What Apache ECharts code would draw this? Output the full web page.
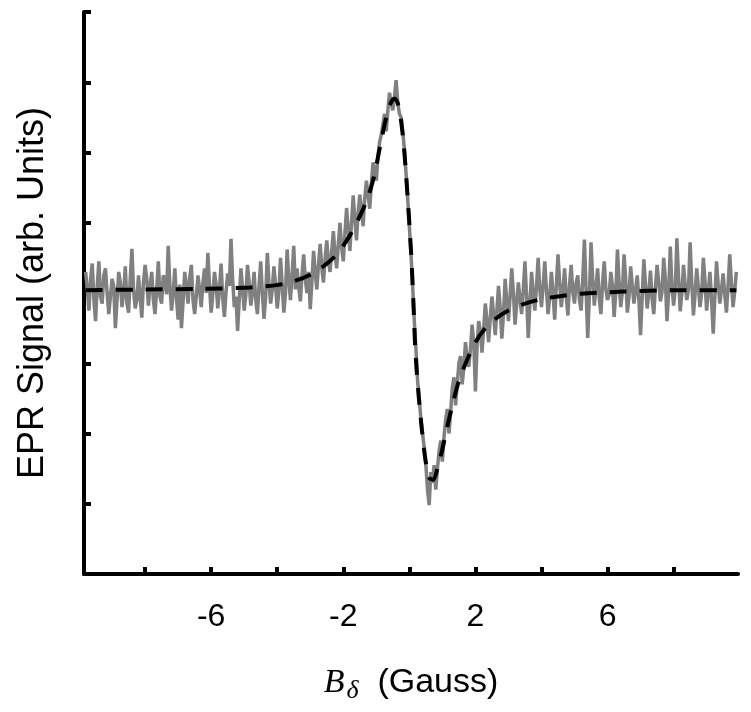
<!DOCTYPE html>
<html>
<head>
<meta charset="utf-8">
<script src="https://cdn.jsdelivr.net/npm/echarts@6/dist/echarts.min.js"></script>
<style>
  html, body { margin: 0; padding: 0; background: #fff; }
  #chart { width: 751px; height: 712px; }
</style>
</head>
<body>
<div id="chart"></div>
<script>
// field sweep of the measured trace (Gauss)
const signalStart = -9.8
const signalStep = 0.05

const signalLeft = [
    4.3, 4.05, 3.75, 4.2, 4.42, 3.9, 3.6, 4.1, 4.45, 3.95, 3.85, 4.25, 4.35, 4.0, 3.7, 3.95, 4.2, 4.1, 3.5, 3.9,
    4.3, 4.15, 3.8, 4.0, 4.38, 3.85, 3.72, 4.2, 4.63, 4.05, 3.78, 3.9, 4.25, 3.95, 3.65, 4.15, 4.4, 4.2, 3.82, 4.1,
    4.3, 3.9, 3.7, 4.05, 4.45, 3.95, 3.85, 4.25, 4.2, 3.98, 4.67, 4.1, 3.75, 4.0, 4.35, 3.92, 3.62, 4.12, 3.5, 3.88,
    4.3, 4.1, 3.85, 4.22, 4.4, 3.9, 3.7, 3.95, 4.25, 4.05, 3.8, 4.15, 4.35, 4.0, 4.57, 4.1, 3.72, 3.98, 4.3, 4.12,
    3.78, 4.05, 4.42, 3.92, 3.66, 4.02, 4.28, 4.1, 4.77, 4.2, 3.8, 3.95, 3.46, 3.9, 4.35, 4.08, 3.75, 3.97, 4.4, 4.15,
    3.82, 4.02, 4.3, 3.9, 3.7, 4.1, 4.45, 4.0, 3.63, 3.95, 4.57, 4.15, 3.85, 4.05, 4.38, 4.1, 3.78, 4.02, 4.5, 4.12,
    3.72, 4.0, 4.62, 4.2, 3.9, 4.25, 4.67
]
const signalRise = [
    4.05, 4.35, 4.1, 3.88, 4.25, 4.55, 4.2, 4.0, 4.3, 3.77, 4.15, 4.6, 4.3, 4.05, 4.4, 4.7, 4.35, 4.15, 4.5, 4.75,
    4.45, 4.3, 4.6, 4.88, 4.55, 4.35, 4.7, 5.0, 4.65, 4.45, 4.85, 5.21, 4.9, 4.6, 5.0, 5.39, 5.05, 4.75, 5.15, 5.4,
    5.2, 4.95, 5.35, 5.6, 5.4, 5.2, 5.55, 5.86, 5.75, 5.6, 5.95, 6.15
]
const signalPeak = [6.25, 6.4, 6.55, 6.3, 6.6, 6.85, 6.7, 6.6, 6.8, 7.03, 6.7, 6.55, 6.5, 6.3, 6.05, 5.7]
const signalFall = [5.35, 4.95, 4.55, 4.1, 3.6, 3.2, 2.75, 2.5, 2.2, 2.0, 1.8, 1.55, 1.2, 0.98, 1.45, 1.3]
const signalRecover = [
    1.55, 1.2, 1.5, 1.75, 1.9, 1.6, 1.95, 2.2, 2.35, 2.0, 2.3, 2.65, 2.8, 2.4, 2.7, 3.0, 3.1, 2.7, 2.95, 3.3,
    3.05, 2.95, 3.2, 3.55, 3.3, 2.6, 3.25, 3.6, 3.45, 3.15, 3.5, 3.85, 3.6, 3.3, 3.65, 3.95, 3.7, 3.4, 3.75, 4.1,
    3.8, 3.35, 3.7, 4.2, 3.9, 3.6, 3.95, 4.35, 4.0, 3.55, 3.85, 4.15, 3.9, 3.7, 4.05, 4.45, 3.95, 3.36, 3.85, 4.3,
    4.0, 3.75, 4.1, 4.5, 4.05, 3.8
]
const signalRight = [
    4.1, 4.45, 4.05, 3.7, 3.95, 4.3, 4.0, 3.62, 4.1, 4.55, 4.15, 3.8, 4.05, 4.35, 3.95, 3.68, 4.12, 4.4, 4.0, 3.85,
    4.15, 4.25, 3.9, 3.75, 4.2, 4.76, 4.05, 3.36, 3.95, 4.72, 4.2, 3.82, 4.08, 4.35, 3.92, 3.7, 4.15, 4.45, 4.05, 3.9,
    3.98, 4.3, 4.1, 3.66, 4.0, 4.62, 4.15, 3.8, 4.02, 4.55, 4.2, 3.72, 3.95, 4.38, 4.1, 3.85, 4.05, 4.25, 3.9, 3.4,
    3.95, 4.48, 4.12, 3.78, 4.0, 4.32, 3.92, 3.7, 4.08, 4.4, 4.15, 3.88, 4.02, 4.5, 4.2, 3.6, 4.0, 4.66, 4.1, 3.82,
    4.05, 4.78, 4.22, 3.74, 4.0, 4.4, 4.12, 3.9, 4.05, 4.72, 4.15, 3.68, 3.98, 4.35, 4.08, 3.8, 4.0, 4.5, 4.18, 3.75,
    4.02, 4.3, 3.9, 3.42, 3.95, 4.45, 4.12, 3.85, 4.05, 4.28, 3.98, 3.72, 4.1, 4.55, 4.15, 3.8, 4.02, 4.3
]

// fitted lineshape (dashed)
const fitX = [-9.8, -8, -6.3, -4.8, -3.8, -3.0, -2.3, -1.8, -1.35, -1.1,
    -0.88, -0.7, -0.55, -0.45, -0.35, -0.25, -0.15, -0.05, 0.05, 0.12,
    0.18, 0.27, 0.38, 0.48, 0.6, 0.72, 0.85, 1.0, 1.15, 1.3,
    1.5, 1.75, 2.0, 2.3, 2.6, 3.0, 3.5, 4.2, 5.2, 6.5, 8.0, 9.9]
const fitY = [4.04, 4.05, 4.06, 4.08, 4.13, 4.26, 4.5, 4.82, 5.25, 5.6,
    6.1, 6.5, 6.72, 6.77, 6.7, 6.45, 6.0, 5.35, 4.6, 3.9,
    3.2, 2.6, 2.05, 1.65, 1.37, 1.34, 1.5, 1.78, 2.1, 2.4,
    2.75, 3.05, 3.3, 3.5, 3.63, 3.75, 3.85, 3.93, 3.99, 4.02, 4.04, 4.04]

const tickValues = [-8, -6, -4, -2, 0, 2, 4, 6, 8]
const labelValues = [-6, -2, 2, 6]

let signal = signalLeft.concat(signalRise, signalPeak, signalFall, signalRecover, signalRight)
let signalData = signal.map((v, i) => [+(signalStart + i * signalStep).toFixed(2), v])
let fitData = fitX.map((x, i) => [x, fitY[i]])

let EC = echarts.init(document.getElementById('chart'))
let option = {
    animation: false,
    grid: {
        left: 84,
        right: 13,
        top: 12,
        bottom: 138
    },
    xAxis: {
        type: 'value',
        min: -9.85,
        max: 9.95,
        name: '{b|B}{d|δ}{t|  (Gauss)}',
        nameLocation: 'middle',
        nameGap: 88,
        nameTextStyle: {
            rich: {
                b: { fontFamily: 'Liberation Serif', fontStyle: 'italic', fontSize: 34, color: '#000' },
                d: { fontFamily: 'Liberation Serif', fontStyle: 'italic', fontSize: 26, color: '#000', padding: [16, 0, 0, 2] },
                t: { fontFamily: 'Liberation Sans', fontSize: 34, color: '#000' }
            }
        },
        axisLine: { onZero: false, lineStyle: { color: '#000', width: 4 } },
        axisTick: {
            customValues: tickValues,
            inside: true,
            length: 7,
            lineStyle: { color: '#000', width: 4 }
        },
        axisLabel: {
            customValues: labelValues,
            fontFamily: 'Liberation Sans',
            fontSize: 32,
            color: '#000',
            margin: 27
        },
        splitLine: { show: false }
    },
    yAxis: {
        type: 'value',
        min: 0,
        max: 8,
        interval: 1,
        name: 'EPR Signal (arb. Units)',
        nameLocation: 'middle',
        nameGap: 33,
        nameTextStyle: { fontFamily: 'Liberation Sans', fontSize: 36, color: '#000' },
        axisLine: { show: true, onZero: false, lineStyle: { color: '#000', width: 4 } },
        axisTick: {
            inside: true,
            length: 7,
            lineStyle: { color: '#000', width: 4 }
        },
        axisLabel: { show: false },
        splitLine: { show: false }
    },
    series: [
        {
            type: 'line',
            data: signalData,
            showSymbol: false,
            sampling: null,
            lineStyle: { color: '#808080', width: 3.5 }
        },
        {
            type: 'line',
            data: fitData,
            showSymbol: false,
            smooth: 0.3,
            lineStyle: { color: '#000', width: 4, type: [17, 13] }
        }
    ]
}
EC.setOption(option)
</script>
</body>
</html>
